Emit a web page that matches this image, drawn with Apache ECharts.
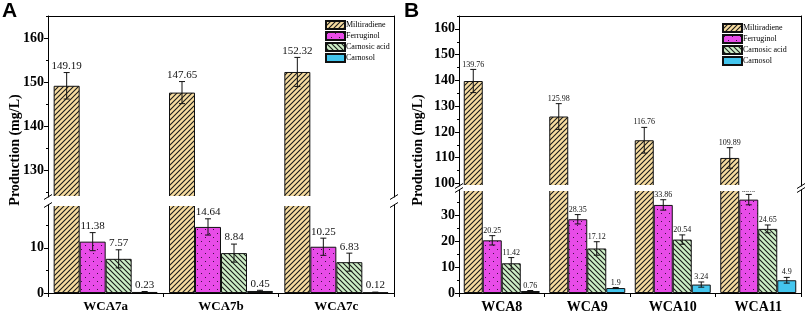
<!DOCTYPE html>
<html>
<head>
<meta charset="utf-8">
<script src="https://cdn.jsdelivr.net/npm/echarts@6/dist/echarts.min.js"></script>
<style>
html, body { margin: 0; padding: 0; background: #fff; }
#chart { width: 809px; height: 316px; }
</style>
</head>
<body>
<div id="chart"></div>
<script>
const seriesNames = ['Miltiradiene', 'Ferruginol', 'Carnosic acid', 'Carnosol']

// panel A
const catA = ['WCA7a', 'WCA7b', 'WCA7c']
const miltiA = [149.19, 147.65, 152.32]
const ferruA = [11.38, 14.64, 10.25]
const acidA = [7.57, 8.84, 6.83]
const carnosolA = [0.23, 0.45, 0.12]
const miltiErrA = [3.0, 2.5, 3.3]
const ferruErrA = [2.0, 1.8, 1.9]
const acidErrA = [2.0, 2.0, 2.0]
const carnosolErrA = [0.1, 0.15, 0.08]

// panel B
const catB = ['WCA8', 'WCA9', 'WCA10', 'WCA11']
const miltiB = [139.76, 125.98, 116.76, 109.89]
const ferruB = [20.25, 28.35, 33.86, 35.9]
const acidB = [11.42, 17.12, 20.54, 24.65]
const carnosolB = [0.76, 1.9, 3.24, 4.9]
const miltiErrB = [4.5, 5.0, 5.0, 4.0]
const ferruErrB = [1.8, 1.8, 2.0, 2.0]
const acidErrB = [2.2, 2.6, 1.8, 1.5]
const carnosolErrB = [0.2, 0.2, 1.0, 1.1]

// tick labels
const ticksAUpper = [130, 140, 150, 160]
const minorAUpper = [125, 135, 145, 155, 165]
const ticksALower = [0, 10]
const minorALower = [5, 15]
const ticksBUpper = [100, 110, 120, 130, 140, 150, 160]
const minorBUpper = [105, 115, 125, 135, 145, 155, 165]
const ticksBLower = [0, 10, 20, 30]
const minorBLower = [5, 15, 25, 35]

const serif = "'Liberation Serif', 'Times New Roman', serif"

function hatch(bg, dir, step) {
    const c = document.createElement('canvas')
    c.width = step
    c.height = step
    const ctx = c.getContext('2d')
    ctx.fillStyle = bg
    ctx.fillRect(0, 0, step, step)
    ctx.strokeStyle = '#1a1a1a'
    ctx.lineWidth = 1.1
    ctx.beginPath()
    if (dir > 0) {
        ctx.moveTo(0, step); ctx.lineTo(step, 0)
        ctx.moveTo(-1, 1); ctx.lineTo(1, -1)
        ctx.moveTo(step - 1, step + 1); ctx.lineTo(step + 1, step - 1)
    } else {
        ctx.moveTo(0, 0); ctx.lineTo(step, step)
        ctx.moveTo(-1, step - 1); ctx.lineTo(1, step + 1)
        ctx.moveTo(step - 1, -1); ctx.lineTo(step + 1, 1)
    }
    ctx.stroke()
    return { image: c, repeat: 'repeat' }
}

function dots(bg) {
    const c = document.createElement('canvas')
    c.width = 8
    c.height = 8
    const ctx = c.getContext('2d')
    ctx.fillStyle = bg
    ctx.fillRect(0, 0, 8, 8)
    ctx.fillStyle = '#3a1040'
    ctx.fillRect(1, 1, 1, 1)
    ctx.fillRect(5, 5, 1, 1)
    return { image: c, repeat: 'repeat' }
}

const fills = [
    hatch('#f7dca0', 1, 5),
    dots('#e84ce8'),
    hatch('#cdeec6', -1, 5),
    '#44c6ee'
]

const panels = [
    {
        cats: catA,
        values: [miltiA, ferruA, acidA, carnosolA],
        errors: [miltiErrA, ferruErrA, acidErrA, carnosolErrA],
        left: 48, width: 346,
        up: { top: 16, height: 181, min: 124, max: 165, ticks: ticksAUpper, minor: minorAUpper },
        low: { top: 205, height: 88, min: 0, max: 19.5, ticks: ticksALower, minor: minorALower },
        barWidth: 26, valueFont: 11, catFont: 13,
        letter: 'A', letterX: 2, yNameX: 15, legendLeft: 325, legendTop: 20
    },
    {
        cats: catB,
        values: [miltiB, ferruB, acidB, carnosolB],
        errors: [miltiErrB, ferruErrB, acidErrB, carnosolErrB],
        left: 459, width: 342,
        up: { top: 16, height: 170, min: 99, max: 165, ticks: ticksBUpper, minor: minorBUpper },
        low: { top: 190, height: 103, min: 0, max: 39.6, ticks: ticksBLower, minor: minorBLower },
        barWidth: 19, valueFont: 8, catFont: 14,
        letter: 'B', letterX: 404, yNameX: 418, legendLeft: 722, legendTop: 23
    }
]

function errorItem(offset, fontSize) {
    return function (params, api) {
        const x = api.value(0)
        const v = api.value(1)
        const e = api.value(2)
        const top = api.coord([x, v + e])
        const bot = api.coord([x, v - e])
        const cx = top[0] + offset
        const cap = 3
        const st = { stroke: '#111', lineWidth: 1 }
        return {
            type: 'group',
            children: [
                { type: 'line', shape: { x1: cx, y1: top[1], x2: cx, y2: bot[1] }, style: st },
                { type: 'line', shape: { x1: cx - cap, y1: top[1], x2: cx + cap, y2: top[1] }, style: st },
                { type: 'line', shape: { x1: cx - cap, y1: bot[1], x2: cx + cap, y2: bot[1] }, style: st },
                {
                    type: 'text',
                    x: cx,
                    y: top[1] - 1,
                    style: {
                        text: String(v),
                        fill: '#111',
                        fontSize: fontSize,
                        fontFamily: serif,
                        textAlign: 'center',
                        textVerticalAlign: 'bottom'
                    }
                }
            ]
        }
    }
}

const grid = []
const xAxis = []
const yAxis = []
const series = []
const legend = []
const graphic = []

const black = { color: '#000', width: 1 }

panels.forEach(function (p, pi) {
    ;['up', 'low'].forEach(function (part) {
        const g = grid.length
        const seg = p[part]
        grid.push({ left: p.left, width: p.width, top: seg.top, height: seg.height, containLabel: false, outerBoundsMode: 'none' })
        xAxis.push({
            gridIndex: g,
            type: 'category',
            data: p.cats,
            position: part === 'up' ? 'top' : 'bottom',
            axisLine: { show: true, lineStyle: black },
            axisTick: { show: part === 'low', length: 4, lineStyle: black },
            axisLabel: {
                show: part === 'low',
                color: '#000',
                fontWeight: 'bold',
                fontSize: p.catFont,
                fontFamily: serif,
                margin: 7
            },
            splitLine: { show: false }
        })
        const yi = yAxis.length
        yAxis.push({
            gridIndex: g,
            type: 'value',
            min: seg.min,
            max: seg.max,
            position: 'left',
            axisLine: { show: true, lineStyle: black },
            axisTick: { show: true, length: 4, customValues: seg.ticks, lineStyle: black },
            axisLabel: {
                customValues: seg.ticks,
                color: '#000',
                fontWeight: 'bold',
                fontSize: 14,
                fontFamily: serif,
                margin: 4
            },
            splitLine: { show: false }
        })
        yAxis.push({
            gridIndex: g,
            type: 'value',
            min: seg.min,
            max: seg.max,
            position: 'left',
            axisLine: { show: false },
            axisTick: { show: true, length: 2, customValues: seg.minor, lineStyle: black },
            axisLabel: { show: false },
            splitLine: { show: false }
        })
        yAxis.push({
            gridIndex: g,
            type: 'value',
            min: seg.min,
            max: seg.max,
            position: 'right',
            axisLine: { show: true, lineStyle: black },
            axisTick: { show: false },
            axisLabel: { show: false },
            splitLine: { show: false }
        })

        seriesNames.forEach(function (name, si) {
            series.push({
                type: 'bar',
                name: name,
                xAxisIndex: g,
                yAxisIndex: yi,
                data: p.values[si],
                barWidth: p.barWidth,
                barGap: '0%',
                itemStyle: { color: fills[si], borderColor: '#111', borderWidth: 1 }
            })
        })
        seriesNames.forEach(function (name, si) {
            // Miltiradiene error bars live in the upper segment, the rest in the lower one
            if ((part === 'up') !== (si === 0)) return
            series.push({
                type: 'custom',
                name: name,
                xAxisIndex: g,
                yAxisIndex: yi,
                clip: true,
                z: 5,
                renderItem: errorItem((si - 1.5) * p.barWidth, p.valueFont),
                data: p.cats.map(function (c, i) {
                    return [i, p.values[si][i], p.errors[si][i]]
                })
            })
        })
    })

    legend.push({
        data: seriesNames,
        orient: 'vertical',
        left: p.legendLeft,
        top: p.legendTop,
        padding: 0,
        icon: 'rect',
        itemWidth: 19,
        itemHeight: 8,
        itemGap: 1,
        selectedMode: false,
        textStyle: { color: '#000', fontSize: 8, fontFamily: serif, padding: [0, 0, 0, -4] }
    })

    // white strips hide the clip edges of the broken bars, then the break marks on the frame
    const yTop = p.up.top + p.up.height
    const yBot = p.low.top
    ;[yTop - 1, yBot - 1].forEach(function (y) {
        graphic.push({
            type: 'rect',
            z: 50,
            shape: { x: p.left + 1, y: y, width: p.width - 2, height: 2 },
            style: { fill: '#fff' }
        })
    })
    ;[p.left, p.left + p.width].forEach(function (x) {
        ;[yTop, yBot].forEach(function (y) {
            graphic.push({
                type: 'line',
                z: 60,
                shape: { x1: x - 4, y1: y + 2.5, x2: x + 4, y2: y - 2.5 },
                style: { stroke: '#000', lineWidth: 1 }
            })
        })
    })

    graphic.push({
        type: 'text',
        x: p.yNameX,
        y: 150,
        rotation: Math.PI / 2,
        style: {
            text: 'Production (mg/L)',
            fill: '#000',
            font: 'bold 14px ' + serif,
            textAlign: 'center',
            textVerticalAlign: 'middle'
        }
    })
    graphic.push({
        type: 'text',
        x: p.letterX,
        y: 1,
        style: {
            text: p.letter,
            fill: '#000',
            font: 'bold 21px Arial, "Liberation Sans", sans-serif',
            textAlign: 'left',
            textVerticalAlign: 'top'
        }
    })
})

const myChart = echarts.init(document.getElementById('chart'))
myChart.setOption({
    animation: false,
    backgroundColor: '#fff',
    grid: grid,
    xAxis: xAxis,
    yAxis: yAxis,
    legend: legend,
    series: series,
    graphic: graphic
})
</script>
</body>
</html>
